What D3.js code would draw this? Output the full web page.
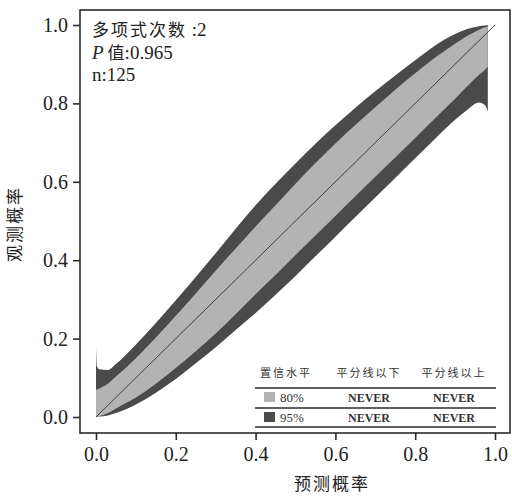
<!DOCTYPE html>
<html>
<head>
<meta charset="utf-8">
<script src="https://cdn.jsdelivr.net/npm/d3@7"></script>
<style>
  body { margin: 0; background: #fff; }
  svg { display: block; }
  .serif { font-family: "Liberation Serif", "Noto Sans CJK SC", serif; }
  .cjk { font-family: "Noto Sans CJK SC", sans-serif; }
</style>
</head>
<body>
<div id="chart"></div>
<script>
'use strict';

// predicted probability grid and the band limits
const probs = [0, 0.002, 0.008, 0.03, 0.05, 0.1, 0.15, 0.2, 0.25, 0.3, 0.35, 0.4, 0.45,
    0.5, 0.55, 0.6, 0.65, 0.7, 0.75, 0.8, 0.85, 0.9, 0.93, 0.96, 0.975, 0.982];
const upper95 = [0.185, 0.13, 0.122, 0.12, 0.135, 0.185, 0.24, 0.298, 0.357, 0.418, 0.48, 0.54, 0.595,
    0.647, 0.697, 0.744, 0.789, 0.831, 0.871, 0.91, 0.948, 0.977, 0.99, 0.997, 0.999, 1.0];
const upper80 = [0.069, 0.07, 0.073, 0.085, 0.103, 0.15, 0.203, 0.258, 0.315, 0.373, 0.43, 0.486, 0.54,
    0.595, 0.648, 0.698, 0.745, 0.79, 0.835, 0.877, 0.917, 0.952, 0.972, 0.988, 0.994, 0.996];
const lower80 = [0, 0.001, 0.002, 0.01, 0.022, 0.05, 0.085, 0.125, 0.168, 0.213, 0.262, 0.313, 0.362,
    0.413, 0.463, 0.513, 0.563, 0.613, 0.662, 0.712, 0.762, 0.812, 0.843, 0.873, 0.886, 0.894];
const lower95 = [0, 0.0005, 0.001, 0.004, 0.01, 0.032, 0.062, 0.097, 0.137, 0.178, 0.222, 0.265, 0.312,
    0.36, 0.41, 0.46, 0.51, 0.56, 0.61, 0.66, 0.71, 0.758, 0.783, 0.802, 0.795, 0.779];
const diagonal = [0, 1];

const ticks = [0, 0.2, 0.4, 0.6, 0.8, 1.0];
const tableHeader = ['置信水平', '平分线以下', '平分线以上'];
const tableLevels = ['80%', '95%'];
const tableBelow = ['NEVER', 'NEVER'];
const tableAbove = ['NEVER', 'NEVER'];

const W = 512, H = 497;
const frame = {left: 80, top: 10, right: 510, bottom: 433};
const dark = '#4a4a4a', light = '#b3b3b3', ink = '#2b2b2b';

const x = d3.scaleLinear().domain([0, 1]).range([96, 495]);
const y = d3.scaleLinear().domain([0, 1]).range([417, 25]);

const svg = d3.select('#chart').append('svg')
    .attr('width', W)
    .attr('height', H);

const band = (lo, hi) => d3.area()
    .x((d, i) => x(probs[i]))
    .y0((d, i) => y(lo[i]))
    .y1((d, i) => y(hi[i]))
    .curve(d3.curveMonotoneX)(probs);

svg.append('path').attr('d', band(lower95, upper95)).attr('fill', dark);
svg.append('path').attr('d', band(lower80, upper80)).attr('fill', light);

svg.append('path')
    .attr('d', d3.line().x(d => x(d)).y(d => y(d))(diagonal))
    .attr('fill', 'none')
    .attr('stroke', '#333')
    .attr('stroke-width', 0.9);

// frame
svg.append('rect')
    .attr('x', frame.left).attr('y', frame.top)
    .attr('width', frame.right - frame.left)
    .attr('height', frame.bottom - frame.top)
    .attr('fill', 'none')
    .attr('stroke', ink)
    .attr('stroke-width', 1.6);

// axes
const yAxis = svg.append('g')
    .attr('transform', `translate(${frame.left},0)`)
    .call(d3.axisLeft(y).tickValues(ticks).tickFormat(d3.format('.1f')).tickSize(7).tickPadding(5));
const xAxis = svg.append('g')
    .attr('transform', `translate(0,${frame.bottom})`)
    .call(d3.axisBottom(x).tickValues(ticks).tickFormat(d3.format('.1f')).tickSize(7).tickPadding(7));

[xAxis, yAxis].forEach(g => {
    g.select('.domain').remove();
    g.selectAll('line').attr('stroke', ink).attr('stroke-width', 1.6);
    g.selectAll('text')
        .attr('class', 'serif')
        .attr('fill', '#222')
        .style('font-size', '20px');
});

svg.append('text')
    .attr('class', 'cjk')
    .attr('x', 332).attr('y', 490)
    .attr('text-anchor', 'middle')
    .style('font-size', '17px')
    .style('letter-spacing', '2px')
    .attr('fill', '#222')
    .text('预测概率');

svg.append('text')
    .attr('class', 'cjk')
    .attr('transform', 'translate(21,224) rotate(-90)')
    .attr('text-anchor', 'middle')
    .style('font-size', '17px')
    .style('letter-spacing', '2px')
    .attr('fill', '#222')
    .text('观测概率');

// info text, top left
const info = svg.append('g').attr('class', 'serif').attr('fill', '#222').style('font-size', '19px');
const t0 = info.append('text').attr('x', 92).attr('y', 36);
t0.append('tspan').attr('class', 'cjk').style('font-size', '17px').style('letter-spacing', '2px').text('多项式次数');
t0.append('tspan').text(' :2');
const t1 = info.append('text').attr('x', 92).attr('y', 59);
t1.append('tspan').style('font-style', 'italic').text('P');
t1.append('tspan').attr('class', 'cjk').attr('dx', 4).style('font-size', '17px').text('值');
t1.append('tspan').text(':0.965');
info.append('text').attr('x', 92).attr('y', 81).text('n:125');

// legend table, bottom right
const tbl = svg.append('g');
const colX = [286, 369, 454];
tableHeader.forEach((h, i) => {
    tbl.append('text')
        .attr('class', 'cjk')
        .attr('x', colX[i]).attr('y', 377)
        .attr('text-anchor', 'middle')
        .style('font-size', '11px')
        .style('letter-spacing', '2px')
        .attr('fill', '#333')
        .text(h);
});
[388, 408, 427].forEach(ly => {
    tbl.append('line')
        .attr('x1', 255).attr('x2', 496)
        .attr('y1', ly).attr('y2', ly)
        .attr('stroke', ink)
        .attr('stroke-width', 1.5);
});
const rowY = [402, 422];
tableLevels.forEach((lvl, i) => {
    tbl.append('rect')
        .attr('x', 264).attr('y', rowY[i] - 10)
        .attr('width', 11).attr('height', 10)
        .attr('fill', i === 0 ? light : dark);
    tbl.append('text')
        .attr('class', 'serif')
        .attr('x', 280).attr('y', rowY[i])
        .style('font-size', '13px')
        .attr('fill', '#333')
        .text(lvl);
    [tableBelow[i], tableAbove[i]].forEach((v, j) => {
        tbl.append('text')
            .attr('class', 'serif')
            .attr('x', colX[j + 1]).attr('y', rowY[i])
            .attr('text-anchor', 'middle')
            .style('font-size', '12px')
            .style('font-weight', 'bold')
            .attr('fill', '#333')
            .text(v);
    });
});
</script>
</body>
</html>
